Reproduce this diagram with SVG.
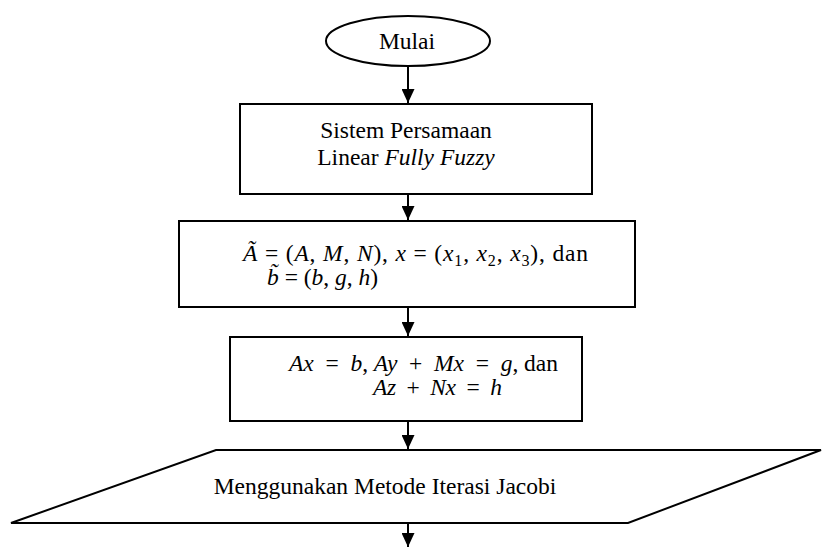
<svg xmlns="http://www.w3.org/2000/svg" width="823" height="547" viewBox="0 0 823 547">
<defs>
<style>
.s{fill:none;stroke:#000;stroke-width:2}
.c{fill:none;stroke:#000;stroke-width:2}
.t{font-family:"Liberation Serif","Times New Roman",serif;font-size:23.5px;fill:#000}
.m{white-space:pre}
.i{font-style:italic}
.sub{font-size:16px}
</style>
<marker id="ah" viewBox="0 0 14 13" refX="14" refY="6.5" markerWidth="14" markerHeight="13" markerUnits="userSpaceOnUse" orient="auto">
<path d="M0,0 L14,6.5 L0,13 z" fill="#000"/>
</marker>
</defs>
<rect width="823" height="547" fill="#fff"/>
<g id="mulai">
<ellipse class="s" cx="408" cy="41" rx="82" ry="25"/>
<text class="t" x="407" y="49" text-anchor="middle">Mulai</text>
</g>
<g id="sistem">
<rect class="s" x="240" y="104" width="352" height="90"/>
<text class="t" x="406" y="138" text-anchor="middle">Sistem Persamaan</text>
<text class="t" x="406" y="165" text-anchor="middle">Linear <tspan class="i">Fully Fuzzy</tspan></text>
</g>
<g id="definisi">
<rect class="s" x="179" y="221" width="456" height="86"/>
<text class="t m" xml:space="preserve" x="243" y="261" textLength="345" lengthAdjust="spacing"><tspan class="i">Ã</tspan> = (<tspan class="i">A</tspan>, <tspan class="i">M</tspan>, <tspan class="i">N</tspan>), <tspan class="i">x</tspan> = (<tspan class="i">x</tspan><tspan class="sub" dy="5">1</tspan><tspan dy="-5">, </tspan><tspan class="i">x</tspan><tspan class="sub" dy="5">2</tspan><tspan dy="-5">, </tspan><tspan class="i">x</tspan><tspan class="sub" dy="5">3</tspan><tspan dy="-5">), dan</tspan></text>
<text class="t m" xml:space="preserve" x="267" y="285"><tspan class="i">b̃</tspan> = (<tspan class="i">b</tspan>, <tspan class="i">g</tspan>, <tspan class="i">h</tspan>)</text>
</g>
<g id="persamaan">
<rect class="s" x="230" y="337" width="352" height="84"/>
<text class="t m" xml:space="preserve" x="289" y="371" textLength="269" lengthAdjust="spacing"><tspan class="i">Ax</tspan>  =  <tspan class="i">b</tspan>, <tspan class="i">Ay</tspan>  +  <tspan class="i">Mx</tspan>  =  <tspan class="i">g</tspan>, dan</text>
<text class="t m" xml:space="preserve" x="373" y="395" textLength="129" lengthAdjust="spacing"><tspan class="i">Az</tspan>  +  <tspan class="i">Nx</tspan>  =  <tspan class="i">h</tspan></text>
</g>
<g id="jacobi">
<polygon class="s" points="216,450 821,450 628,523 11,523"/>
<text class="t" x="385" y="494" text-anchor="middle">Menggunakan Metode Iterasi Jacobi</text>
</g>
<g id="connectors">
<line class="c" x1="408" y1="66" x2="408" y2="103" marker-end="url(#ah)"/>
<line class="c" x1="408" y1="194" x2="408" y2="220" marker-end="url(#ah)"/>
<line class="c" x1="408" y1="307" x2="408" y2="336" marker-end="url(#ah)"/>
<line class="c" x1="408" y1="421" x2="408" y2="449" marker-end="url(#ah)"/>
<line class="c" x1="408" y1="523" x2="408" y2="547" marker-end="url(#ah)"/>
</g>
</svg>
